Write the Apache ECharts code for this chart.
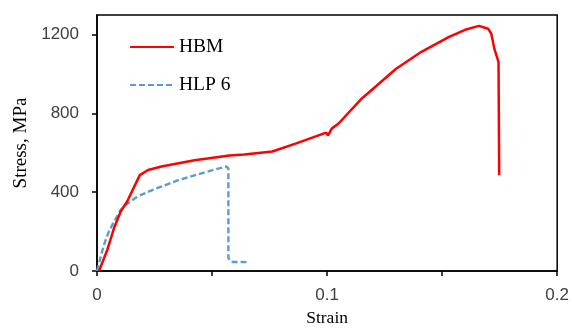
<!DOCTYPE html>
<html>
<head>
<meta charset="utf-8">
<script src="https://cdn.jsdelivr.net/npm/echarts@6/dist/echarts.min.js"></script>
<style>
  html, body { margin: 0; padding: 0; background: #fff; }
  #chart { width: 572px; height: 332px; }
</style>
</head>
<body>
<div id="chart"></div>
<script>
// values
const seriesNames = ['HBM', 'HLP 6'];

const hbmStrain = [0.0009, 0.0045, 0.0074, 0.0103, 0.0131, 0.0186, 0.0222, 0.028, 0.0424, 0.0576, 0.064, 0.0762, 0.0866,
  0.0996, 0.1004, 0.102, 0.105, 0.115, 0.130, 0.141, 0.153, 0.160, 0.166, 0.170, 0.1714, 0.1727, 0.1745, 0.1748];
const hbmStress = [0, 108, 218, 302, 353, 487, 513, 531, 562, 587, 592, 607, 648,
  703, 688, 723, 749, 875, 1027, 1113, 1189, 1225, 1245, 1230, 1204, 1128, 1062, 486];

const hlpStrain = [0, 0.003, 0.0052, 0.0074, 0.0103, 0.0124, 0.0175, 0.024, 0.035, 0.0498, 0.0563, 0.0571, 0.0571, 0.0584, 0.065];
const hlpStress = [0, 133, 201, 251, 310, 335, 378, 411, 460, 511, 531, 520, 66, 46, 45];

const xTicks = ['0', '0.1', '0.2'];

const zip = (xs, ys) => xs.map((x, i) => [x, ys[i]]);

const chart = echarts.init(document.getElementById('chart'));

const serif = 'Liberation Serif';
const sans = 'Liberation Sans';

chart.setOption({
  backgroundColor: '#fff',
  animation: false,
  grid: {
    left: 97, right: 13, top: 15, bottom: 59,
    show: true, borderColor: '#000', borderWidth: 1.5
  },
  legend: {
    data: seriesNames,
    orient: 'vertical',
    left: 124, top: 32,
    itemWidth: 44, itemHeight: 14, itemGap: 18,
    itemStyle: { opacity: 0 },
    textStyle: { fontFamily: serif, fontSize: 19.5, color: '#000' }
  },
  xAxis: {
    type: 'value',
    min: 0, max: 0.2, interval: 0.05,
    name: 'Strain',
    nameLocation: 'middle',
    nameGap: 38,
    nameTextStyle: { fontFamily: serif, fontSize: 17.5, color: '#000' },
    axisLine: { lineStyle: { color: '#000', width: 1.5 } },
    axisTick: { show: true, length: 5, lineStyle: { color: '#000', width: 1.5 } },
    axisLabel: {
      margin: 16,
      fontFamily: sans, fontSize: 17, color: '#404040',
      formatter: v => {
        const s = String(+v.toFixed(2));
        return xTicks.includes(s) ? s : '';
      }
    },
    splitLine: { show: false }
  },
  yAxis: {
    type: 'value',
    min: 0, max: 1300, interval: 400,
    name: 'Stress, MPa',
    nameLocation: 'middle',
    nameGap: 62,
    nameTextStyle: { fontFamily: serif, fontSize: 19, color: '#000' },
    axisLine: { show: true, lineStyle: { color: '#000', width: 1.5 } },
    axisTick: { show: true, length: 5, lineStyle: { color: '#000', width: 1.5 } },
    axisLabel: {
      margin: 18, showMaxLabel: false,
      fontFamily: sans, fontSize: 17, color: '#404040',
      formatter: v => String(v)
    },
    splitLine: { show: false }
  },
  series: [
    {
      name: seriesNames[0],
      type: 'line',
      symbol: 'none',
      color: '#ff0000',
      lineStyle: { color: '#ff0000', width: 2.5 },
      data: zip(hbmStrain, hbmStress),
      z: 3
    },
    {
      name: seriesNames[1],
      type: 'line',
      symbol: 'none',
      color: '#5b9bd5',
      lineStyle: { color: '#5b9bd5', width: 2.4, type: [6, 3] },
      data: zip(hlpStrain, hlpStress),
      z: 2
    }
  ]
});
</script>
</body>
</html>
